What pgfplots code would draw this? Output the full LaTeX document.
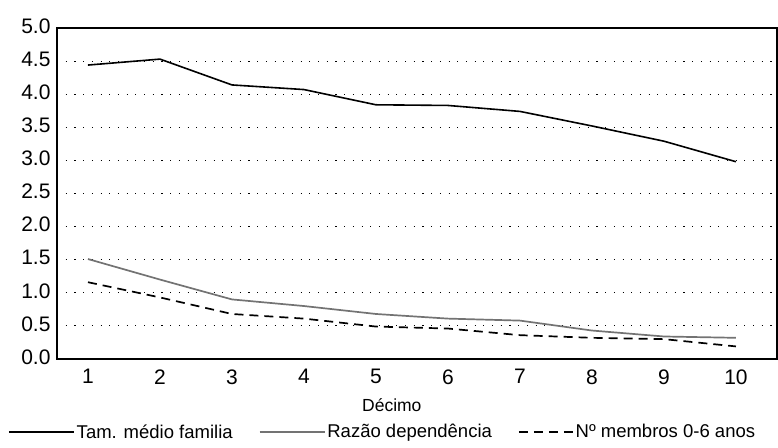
\documentclass[border=0pt]{standalone}
\usepackage{pgfplots}
\pgfplotsset{compat=1.18}
\usetikzlibrary{calc}
\usepackage{fontspec}
\setmainfont{Liberation Sans}

\begin{document}
\begin{tikzpicture}
\begin{axis}[
    name=ax,
    scale only axis,
    width=720pt, height=331pt,
    xmin=0.57, xmax=10.57,
    ymin=0, ymax=5,
    xtick={1,...,10},
    ytick={0,0.5,...,5},
    yticklabel style={yshift=2pt, /pgf/number format/.cd, fixed, fixed zerofill, precision=1},
    /pgf/number format/assume math mode=true,
    tick label style={font=\fontsize{21}{25}\selectfont},
    major tick length=0pt,
    xticklabel shift=7pt,
    yticklabel shift=3pt,
    ymajorgrids,
    grid style={black, line width=1.1pt, dash pattern=on 1.1pt off 7.6pt},
    axis line style={black, line width=1.6pt},
    xlabel={Décimo},
    xlabel style={font=\fontsize{17.5}{20}\selectfont,
        at={(axis description cs:0.465,0)}, anchor=center, yshift=-46pt},
    legend columns=3,
    legend cell align=left,
    legend style={draw=none, fill=none, font=\fontsize{18.5}{22}\selectfont,
        at={(-0.0723,-0.2205)}, anchor=west,
        /tikz/every even column/.append style={column sep=24pt}},
    legend image code/.code={\draw[#1] (0pt,0pt) -- (65pt,0pt);},
]
\addplot[black, line width=1.6pt] coordinates {
    (1,4.44) (2,4.53) (3,4.14) (4,4.07) (5,3.84)
    (6,3.83) (7,3.74) (8,3.52) (9,3.29) (10,2.98)
};
\addlegendentry{Tam. médio familia}
\addplot[black!55, line width=1.7pt] coordinates {
    (1,1.51) (2,1.20) (3,0.90) (4,0.80) (5,0.68)
    (6,0.61) (7,0.58) (8,0.43) (9,0.34) (10,0.32)
};
\addlegendentry{Razão dependência}
\addplot[black, line width=1.7pt, dash pattern=on 9pt off 6pt,
    legend image code/.code={\draw[black, line width=1.7pt, dash pattern=on 9pt off 6pt] (0pt,0pt) -- (54pt,0pt);}] coordinates {
    (1,1.16) (2,0.93) (3,0.68) (4,0.61) (5,0.49)
    (6,0.46) (7,0.36) (8,0.32) (9,0.30) (10,0.19)
};
\addlegendentry{Nº membros 0-6 anos}
\end{axis}
\pgfresetboundingbox
\path[use as bounding box] ($(ax.south west)+(-57pt,-89pt)$) rectangle ($(ax.north east)+(1pt,28pt)$);
\end{tikzpicture}
\end{document}
